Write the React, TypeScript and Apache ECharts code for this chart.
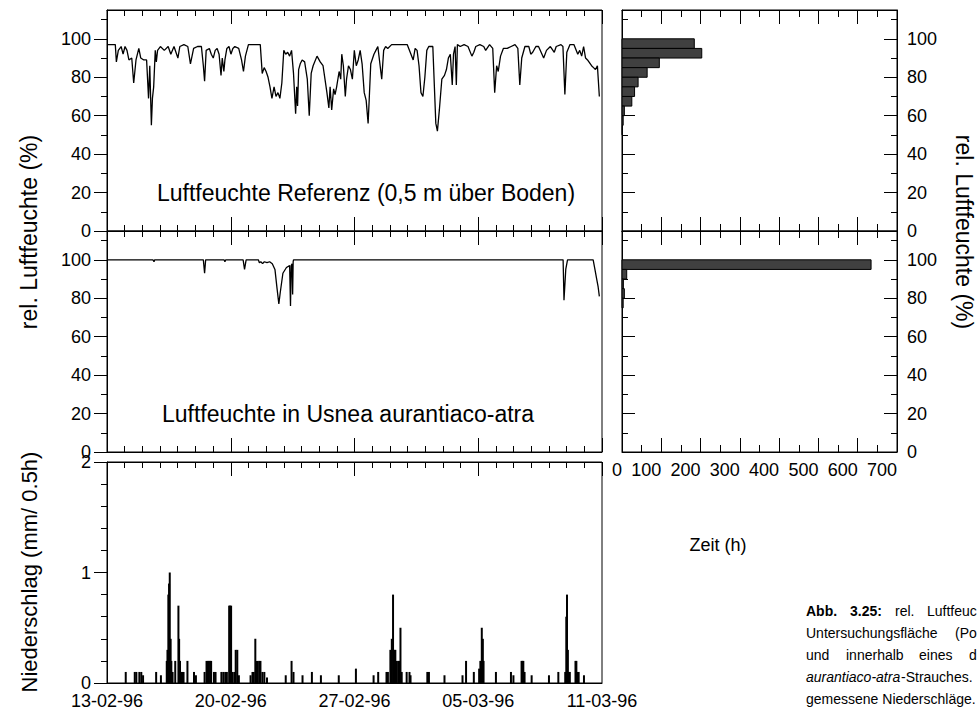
import React, { useEffect, useRef } from "react";
import * as echarts from "echarts";

// ---------- data ----------
const dateLabels = ["13-02-96", "20-02-96", "27-02-96", "05-03-96", "11-03-96"];
const dayTicks = [0, 7, 14, 21, 28];
const rhMajorTicks = [0, 20, 40, 60, 80, 100];
const rhMinorTicks = [10, 30, 50, 70, 90, 110];

// relative humidity, reference (0.5 m above ground): [day since 13-02-96, %]
const refHumidity: [number, number][] = [
  [0, 97], [0.47, 97], [0.53, 88], [0.64, 94], [0.8, 96], [0.91, 92], [1.02, 96], [1.13, 94], [1.24, 89], [1.4, 90],
  [1.51, 77], [1.64, 89], [1.8, 95], [1.91, 90], [2.08, 89], [2.24, 89], [2.35, 69], [2.42, 86], [2.51, 55], [2.57, 69],
  [2.64, 75], [2.73, 94], [2.79, 88], [2.86, 94], [3.02, 96], [3.24, 94], [3.46, 96], [3.61, 92], [3.79, 96], [4.01, 90],
  [4.12, 96], [4.35, 97], [4.57, 96], [4.72, 87], [4.9, 95], [5.12, 96], [5.34, 96], [5.45, 86], [5.52, 78], [5.61, 94],
  [5.79, 95], [5.9, 92], [6.01, 90], [6.12, 94], [6.23, 95], [6.34, 92], [6.45, 81], [6.52, 90], [6.61, 83], [6.67, 89],
  [6.78, 95], [6.9, 96], [7.01, 92], [7.12, 95], [7.23, 96], [7.45, 95], [7.61, 89], [7.72, 83], [7.83, 91], [8.0, 97],
  [8.34, 97], [8.67, 97], [8.78, 82], [8.89, 85], [9.0, 83], [9.11, 80], [9.22, 75], [9.33, 69], [9.45, 75], [9.56, 70],
  [9.67, 72], [9.78, 69], [9.89, 77], [10.0, 94], [10.11, 92], [10.22, 93], [10.33, 91], [10.44, 94], [10.55, 82], [10.67, 61],
  [10.73, 75], [10.78, 65], [10.84, 84], [10.93, 87], [11.04, 89], [11.18, 88], [11.33, 79], [11.44, 60], [11.55, 82], [11.66, 86],
  [11.88, 91], [12.06, 88], [12.22, 86], [12.33, 79], [12.44, 72], [12.55, 64], [12.62, 75], [12.71, 63], [12.82, 74], [12.9, 71],
  [12.99, 75], [13.13, 83], [13.22, 79], [13.28, 92], [13.37, 86], [13.48, 70], [13.55, 79], [13.66, 86], [13.77, 84], [13.88, 79],
  [13.99, 94], [14.1, 86], [14.21, 89], [14.32, 94], [14.43, 87], [14.55, 72], [14.66, 68], [14.77, 56], [14.83, 68], [14.92, 87],
  [15.1, 92], [15.21, 94], [15.32, 96], [15.54, 79], [15.65, 94], [15.76, 96], [15.88, 95], [16.1, 97], [16.54, 97], [16.98, 97],
  [17.32, 89], [17.43, 95], [17.54, 94], [17.65, 86], [17.76, 72], [17.87, 70], [17.98, 80], [18.09, 94], [18.2, 96], [18.43, 96],
  [18.6, 56], [18.69, 52], [18.8, 63], [18.94, 79], [19.09, 81], [19.2, 84], [19.31, 90], [19.42, 92], [19.53, 76], [19.6, 92],
  [19.69, 96], [19.76, 76], [19.82, 97], [19.98, 96], [20.2, 97], [20.42, 96], [20.64, 91], [20.75, 93], [20.86, 96], [21.09, 97],
  [21.31, 96], [21.42, 94], [21.64, 97], [21.82, 95], [21.93, 72], [22.04, 86], [22.13, 83], [22.26, 91], [22.42, 95], [22.64, 95],
  [22.86, 96], [23.08, 97], [23.24, 95], [23.35, 76], [23.46, 90], [23.64, 96], [23.86, 96], [23.97, 92], [24.08, 93], [24.26, 96],
  [24.41, 96], [24.7, 90], [24.86, 94], [25.08, 96], [25.3, 93], [25.41, 96], [25.68, 97], [25.79, 96], [25.9, 71], [26.01, 93],
  [26.19, 97], [26.41, 97], [26.63, 92], [26.74, 94], [26.85, 91], [26.96, 96], [27.07, 90], [27.18, 89], [27.41, 86], [27.52, 85],
  [27.63, 84], [27.74, 86], [27.85, 70],
];

// relative humidity inside Usnea aurantiaco-atra: [day, %]
const usneaHumidity: [number, number][] = [
  [0, 100], [2.6, 100], [2.66, 99], [2.7, 100], [5.45, 100], [5.52, 93], [5.58, 100], [6.62, 100], [6.67, 99], [6.72, 100],
  [7.7, 100], [7.78, 95], [7.87, 100], [8.56, 100], [8.62, 98.5], [8.7, 99], [8.8, 98], [8.9, 99], [9.05, 98.5], [9.2, 99],
  [9.35, 98], [9.5, 95], [9.62, 85], [9.72, 77], [9.8, 83], [9.95, 93], [10.15, 96], [10.33, 97], [10.38, 76], [10.42, 97],
  [10.47, 98], [10.5, 82], [10.53, 99], [10.55, 100], [25.8, 100], [25.85, 79], [25.95, 95], [26.05, 100], [27.5, 100], [27.6, 95],
  [27.7, 90], [27.78, 86], [27.85, 81],
];

// precipitation per half hour: [day, mm]
const rainfall: [number, number][] = [
  [1.06, 0.1], [1.57, 0.1], [1.66, 0.1], [1.83, 0.1], [1.94, 0.1], [2.04, 0.07], [2.78, 0.1], [3.05, 0.07],
  [3.38, 0.2], [3.42, 0.3], [3.47, 0.8], [3.51, 0.9], [3.55, 1.0], [3.6, 0.4], [3.64, 0.2], [3.71, 0.1], [3.86, 0.2],
  [4.04, 0.7], [4.08, 0.4], [4.13, 0.2], [4.19, 0.1], [4.26, 0.1], [4.33, 0.1], [4.55, 0.2], [4.92, 0.1], [5.03, 0.07],
  [5.52, 0.1], [5.63, 0.2], [5.7, 0.2], [5.76, 0.2], [5.83, 0.2], [5.89, 0.2], [6.05, 0.1], [6.14, 0.1],
  [6.47, 0.1], [6.58, 0.1], [6.69, 0.1], [6.78, 0.1], [6.91, 0.7], [6.96, 0.7], [7.02, 0.7], [7.09, 0.1], [7.2, 0.1],
  [7.28, 0.3], [7.37, 0.3], [7.46, 0.07], [8.12, 0.07], [8.23, 0.1], [8.3, 0.1], [8.39, 0.4], [8.45, 0.2], [8.52, 0.2],
  [8.61, 0.2], [8.68, 0.2], [8.79, 0.1], [8.9, 0.1], [9.05, 0.05], [10.11, 0.07], [10.44, 0.2], [10.55, 0.1], [11.06, 0.07],
  [11.59, 0.1], [12.1, 0.07], [13.11, 0.07], [14.08, 0.13], [15.08, 0.07], [15.34, 0.1], [15.81, 0.1], [15.89, 0.1],
  [16.03, 0.3], [16.11, 0.4], [16.18, 0.8], [16.25, 0.3], [16.31, 0.3], [16.38, 0.2], [16.47, 0.2], [16.53, 0.2],
  [16.6, 0.5], [16.67, 0.1], [16.95, 0.1], [17.11, 0.1], [17.17, 0.07], [18.12, 0.1], [18.21, 0.1], [19.09, 0.07],
  [20.11, 0.07], [20.31, 0.2], [20.75, 0.1], [21.05, 0.13], [21.12, 0.2], [21.2, 0.5], [21.26, 0.4], [21.3, 0.2],
  [22.0, 0.1], [22.85, 0.1], [22.99, 0.07], [23.45, 0.2], [23.5, 0.2], [23.55, 0.2], [23.62, 0.1], [24.02, 0.07],
  [25.0, 0.07], [25.53, 0.1], [25.92, 0.1], [25.98, 0.6], [26.02, 0.8], [26.07, 0.3], [26.12, 0.1], [26.18, 0.1],
  [26.5, 0.2], [26.55, 0.2], [26.62, 0.1], [26.68, 0.1], [26.98, 0.07],
];

// histograms: hours per 5 % humidity class (lower bound of class)
const classLower = [95, 90, 85, 80, 75, 70, 65, 60, 55, 50];
const refHours = [184, 203, 95, 64, 41, 32, 25, 6, 3, 1];
const usneaHours = [634, 12, 3.5, 6, 3, 0, 0, 0, 0, 0];
const classWidth = 5;

// ---------- styling ----------
const FONT = "'Liberation Sans', Arial, Helvetica, sans-serif";
const BLACK = "#000";
const TICK_FONT = 18;

const grids = [
  { left: 107, top: 10, width: 495, height: 221 },
  { left: 107, top: 231, width: 495, height: 221 },
  { left: 107, top: 462, width: 495, height: 221 },
  { left: 622, top: 10, width: 275, height: 221 },
  { left: 622, top: 231, width: 275, height: 221 },
].map((g) => ({ ...g, show: true, borderColor: BLACK, borderWidth: 1, containLabel: false }));

function timeAxis(gridIndex: number, position: "top" | "bottom", withLabels = false, withTicks = true) {
  return {
    type: "value",
    gridIndex,
    position,
    min: 0,
    max: 28,
    interval: 7,
    axisLine: { show: true, onZero: false, lineStyle: { color: BLACK, width: 1 } },
    axisTick: { show: withTicks, inside: true, length: 14, lineStyle: { color: BLACK, width: 1 } },
    minorTick: { show: withTicks, splitNumber: 7, length: 6, lineStyle: { color: BLACK, width: 1 } },
    splitLine: { show: false },
    axisLabel: {
      show: withLabels,
      color: BLACK,
      fontSize: TICK_FONT,
      fontFamily: FONT,
      margin: 9,
      formatter: (v: number) => {
        const i = dayTicks.indexOf(v);
        return i >= 0 ? dateLabels[i] : "";
      },
    },
  };
}

function hourAxis(gridIndex: number, position: "top" | "bottom", withLabels = false) {
  return {
    type: "value",
    gridIndex,
    position,
    min: 0,
    max: 700,
    interval: 100,
    axisLine: { show: true, onZero: false, lineStyle: { color: BLACK, width: 1 } },
    axisTick: { show: true, inside: true, length: 14, lineStyle: { color: BLACK, width: 1 } },
    minorTick: { show: true, splitNumber: 2, length: 7, lineStyle: { color: BLACK, width: 1 } },
    splitLine: { show: false },
    axisLabel: {
      show: withLabels,
      color: BLACK,
      fontSize: TICK_FONT,
      fontFamily: FONT,
      margin: 9,
      align: "right",
      showMaxLabel: true,
      showMinLabel: true,
    },
  };
}

function rhAxis(gridIndex: number, position: "left" | "right", kind: "major" | "minor", inside: boolean, withLabels: boolean) {
  const ticks = kind === "major" ? rhMajorTicks : rhMinorTicks;
  return {
    type: "value",
    gridIndex,
    position,
    min: 0,
    max: 115,
    axisLine: { show: kind === "major", onZero: false, lineStyle: { color: BLACK, width: 1 } },
    axisTick: {
      show: true,
      inside,
      length: kind === "major" ? 13 : 6,
      customValues: ticks,
      lineStyle: { color: BLACK, width: 1 },
    },
    splitLine: { show: false },
    axisLabel: {
      show: withLabels,
      customValues: rhMajorTicks,
      color: BLACK,
      fontSize: TICK_FONT,
      fontFamily: FONT,
      margin: inside ? 10 : 16,
    },
  };
}

const xAxes = [
  timeAxis(0, "top"), // 0
  timeAxis(0, "bottom"), // 1
  timeAxis(1, "top"), // 2
  timeAxis(1, "bottom"), // 3
  timeAxis(2, "top"), // 4
  timeAxis(2, "bottom", true, false), // 5
  hourAxis(3, "top"), // 6
  hourAxis(3, "bottom"), // 7
  hourAxis(4, "top"), // 8
  hourAxis(4, "bottom", true), // 9
];

const yAxes = [
  rhAxis(0, "left", "major", false, true), // 0
  rhAxis(0, "left", "minor", false, false), // 1
  rhAxis(1, "left", "major", false, true), // 2
  rhAxis(1, "left", "minor", false, false), // 3
  {
    type: "value",
    gridIndex: 2,
    position: "left",
    min: 0,
    max: 2,
    interval: 1,
    axisLine: { show: true, onZero: false, lineStyle: { color: BLACK, width: 1 } },
    axisTick: { show: true, inside: false, length: 13, lineStyle: { color: BLACK, width: 1 } },
    minorTick: { show: true, splitNumber: 5, length: 6, lineStyle: { color: BLACK, width: 1 } },
    splitLine: { show: false },
    axisLabel: { color: BLACK, fontSize: TICK_FONT, fontFamily: FONT, margin: 16 },
  }, // 4
  rhAxis(3, "left", "major", true, false), // 5
  rhAxis(3, "left", "minor", true, false), // 6
  rhAxis(3, "right", "major", true, true), // 7
  rhAxis(3, "right", "minor", true, false), // 8
  rhAxis(4, "left", "major", true, false), // 9
  rhAxis(4, "left", "minor", true, false), // 10
  rhAxis(4, "right", "major", true, true), // 11
  rhAxis(4, "right", "minor", true, false), // 12
];

function histData(hours: number[]) {
  return classLower.map((lo, i) => [lo, lo + classWidth, hours[i]]);
}

function histSeries(hours: number[], xAxisIndex: number, yAxisIndex: number) {
  return {
    type: "custom",
    xAxisIndex,
    yAxisIndex,
    data: histData(hours),
    encode: { x: 2, y: [0, 1] },
    renderItem: (_params: any, api: any) => {
      const lo = api.value(0);
      const hi = api.value(1);
      const h = api.value(2);
      if (!h) return null;
      const a = api.coord([0, hi]);
      const b = api.coord([h, lo]);
      return {
        type: "rect",
        shape: { x: a[0], y: a[1], width: b[0] - a[0], height: b[1] - a[1] },
        style: { fill: "#404040", stroke: BLACK, lineWidth: 1 },
      };
    },
  };
}

const txt = (text: string, size: number, weight = "", extra: any = {}) => ({
  text,
  font: `${weight}${size}px ${FONT}`,
  fill: BLACK,
  verticalAlign: "middle",
  ...extra,
});

const CAP = 14;
const graphics: any[] = [
  { type: "text", x: 366, y: 193, style: txt("Luftfeuchte Referenz (0,5 m über Boden)", 23, "", { align: "center" }) },
  { type: "text", x: 348, y: 414, style: txt("Luftfeuchte in Usnea aurantiaco-atra", 23, "", { align: "center" }) },
  { type: "text", x: 29, y: 232, rotation: Math.PI / 2, style: txt("rel. Luftfeuchte (%)", 23, "", { align: "center" }) },
  { type: "text", x: 29, y: 572, rotation: Math.PI / 2, style: txt("Niederschlag (mm/ 0.5h)", 22, "", { align: "center" }) },
  { type: "text", x: 964, y: 232, rotation: -Math.PI / 2, style: txt("rel. Luftfeuchte (%)", 23, "", { align: "center" }) },
  { type: "text", x: 718, y: 545, style: txt("Zeit (h)", 18, "", { align: "center" }) },
  // caption, justified and cut by the right edge as in the original page
  { type: "text", x: 806, y: 611, style: txt("Abb.", CAP, "bold ") },
  { type: "text", x: 850, y: 611, style: txt("3.25:", CAP, "bold ") },
  { type: "text", x: 895, y: 611, style: txt("rel.", CAP) },
  { type: "text", x: 927, y: 611, style: txt("Luftfeuc", CAP) },
  { type: "text", x: 806, y: 633, style: txt("Untersuchungsfläche", CAP) },
  { type: "text", x: 955, y: 633, style: txt("(Po", CAP) },
  { type: "text", x: 806, y: 655, style: txt("und", CAP) },
  { type: "text", x: 846, y: 655, style: txt("innerhalb", CAP) },
  { type: "text", x: 919, y: 655, style: txt("eines", CAP) },
  { type: "text", x: 969, y: 655, style: txt("d", CAP) },
  { type: "text", x: 806, y: 677, style: txt("aurantiaco-atra", CAP, "italic ") },
  { type: "text", x: 901, y: 677, style: txt("-Strauches.", CAP) },
  { type: "text", x: 806, y: 699, style: txt("gemessene Niederschläge.", CAP) },
];

const option: any = {
  animation: false,
  backgroundColor: "#fff",
  textStyle: { fontFamily: FONT },
  grid: grids,
  xAxis: xAxes,
  yAxis: yAxes,
  graphic: graphics,
  series: [
    {
      type: "line",
      xAxisIndex: 1,
      yAxisIndex: 0,
      data: refHumidity,
      showSymbol: false,
      lineStyle: { color: BLACK, width: 1.3 },
      clip: true,
    },
    {
      type: "line",
      xAxisIndex: 3,
      yAxisIndex: 2,
      data: usneaHumidity,
      showSymbol: false,
      lineStyle: { color: BLACK, width: 1.3 },
      clip: true,
    },
    {
      type: "bar",
      xAxisIndex: 5,
      yAxisIndex: 4,
      data: rainfall,
      barWidth: 2,
      itemStyle: { color: BLACK },
    },
    histSeries(refHours, 7, 7),
    histSeries(usneaHours, 9, 11),
  ],
};

export default function App() {
  const ref = useRef<HTMLDivElement>(null);
  useEffect(() => {
    if (!ref.current) return;
    const chart = echarts.init(ref.current, null, { renderer: "svg" });
    chart.setOption(option);
    return () => chart.dispose();
  }, []);
  return (
    <div
      ref={ref}
      style={{ position: "absolute", left: 0, top: 0, width: 977, height: 711, background: "#fff" }}
    />
  );
}
